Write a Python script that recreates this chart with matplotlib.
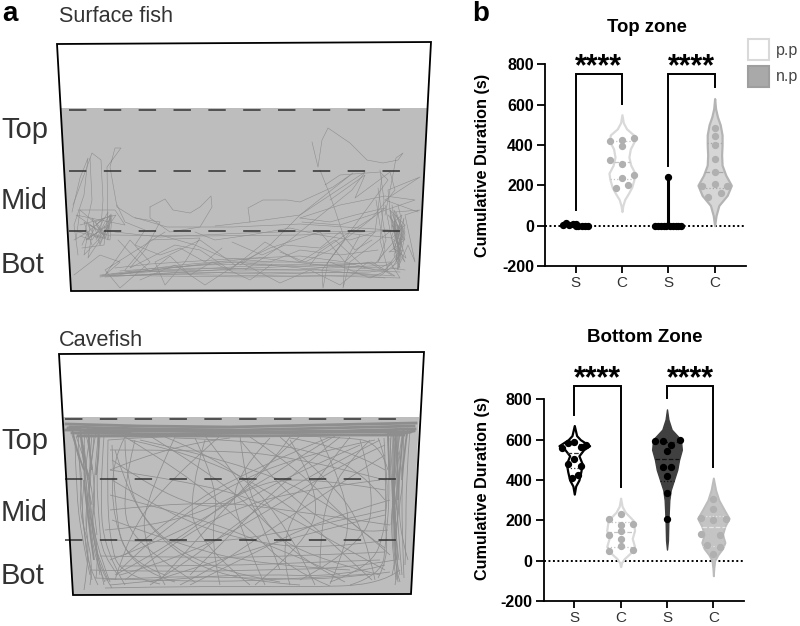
import numpy as np
import matplotlib
matplotlib.use("Agg")
import matplotlib.pyplot as plt
from matplotlib.patches import Polygon, Rectangle, PathPatch
from matplotlib.path import Path

plt.rcParams['font.family'] = ['Liberation Sans', 'DejaVu Sans']

W, H = 800, 626

# ---- panel a, everything in pixels ----
surface_tank = [(57, 44), (431, 42), (418, 290), (71, 291)]
surface_water = [(61, 108), (427, 108), (418, 290), (71, 290)]
surface_dashes = [110, 170.5, 230.7]
cave_tank = [(59, 354), (424, 352), (411, 594), (73, 595)]
cave_water = [(63.5, 417), (419, 417), (411, 594), (73, 594)]
cave_dashes = [419, 479, 540]

surface_traces = [
    [(312, 142), (318, 167), (322, 140), (328, 128), (350, 143), (367, 160), (383, 163), (398, 160), (403, 153), (396, 158), (392, 180), (385, 215)],
    [(150, 207), (165, 199), (173, 210), (190, 213), (200, 207), (211, 196), (212, 207), (200, 227), (170, 232), (150, 218), (150, 207)],
    [(215, 226), (250, 222), (248, 208), (263, 200), (287, 200), (300, 202), (333, 187), (353, 173), (300, 215), (250, 222)],
    [(108, 232), (107, 167), (121, 148), (115, 148), (110, 167), (117, 207), (133, 217), (167, 227), (233, 227), (300, 224), (390, 230)],
    [(73, 205), (84, 175), (92, 153), (101, 160), (103, 200), (100, 240), (88, 258), (94, 222), (80, 210), (76, 240)],
    [(90, 158), (92, 200), (85, 232), (105, 238), (95, 222), (112, 215), (110, 240), (90, 235), (78, 232)],
    [(78, 210), (115, 210), (125, 225), (110, 222), (76, 215), (98, 230), (108, 212), (104, 245), (82, 248)],
    [(74, 275), (100, 255), (120, 262), (105, 275), (130, 240), (150, 262), (120, 288), (105, 270), (165, 232)],
    [(100, 276), (170, 268), (235, 262), (300, 268), (380, 276), (398, 262), (402, 230), (396, 215)],
    [(102, 275), (180, 265), (260, 258), (320, 265), (385, 270), (400, 250), (405, 225)],
    [(105, 277), (190, 272), (270, 274), (340, 272), (395, 276), (372, 262), (300, 270), (200, 268), (125, 272)],
    [(120, 274), (220, 262), (300, 262), (375, 264), (395, 240), (394, 210), (405, 235), (398, 270)],
    [(100, 275), (160, 276), (250, 277), (330, 276), (400, 278), (390, 262), (330, 265), (250, 268), (150, 274)],
    [(125, 270), (150, 240), (200, 238), (185, 262), (165, 285), (155, 262), (200, 240), (235, 265), (270, 248), (320, 232), (345, 262), (360, 235)],
    [(110, 235), (200, 236), (300, 235), (345, 233), (392, 238), (405, 225), (390, 210), (400, 255), (385, 270)],
    [(115, 232), (160, 237), (245, 233), (315, 231), (360, 232), (395, 230)],
    [(245, 270), (290, 240), (352, 190), (365, 172), (300, 215), (270, 245), (240, 265)],
    [(320, 170), (330, 195), (345, 240), (322, 270), (323, 288), (328, 262), (355, 225), (388, 180), (380, 172), (340, 175), (325, 185)],
    [(382, 175), (378, 210), (375, 232), (345, 262), (343, 288), (350, 262), (392, 230), (388, 190), (420, 177), (385, 200), (418, 212)],
    [(385, 205), (392, 240), (400, 262), (395, 220), (405, 240), (392, 225), (401, 255), (390, 215), (398, 235), (406, 258), (393, 248), (399, 225)],
    [(390, 210), (400, 230), (394, 250), (404, 218), (397, 270), (408, 245), (415, 262), (405, 215), (420, 210), (395, 212)],
    [(96, 240), (105, 222), (110, 215), (107, 235), (111, 218), (100, 232), (90, 225), (88, 240), (95, 228), (84, 222), (92, 245)],
    [(135, 218), (160, 222), (145, 250), (130, 268), (175, 245), (200, 250), (230, 270), (265, 242), (300, 262), (335, 240), (365, 268)],
    [(140, 280), (175, 265), (205, 285), (240, 262), (280, 283), (310, 270), (340, 285), (368, 262), (392, 275)],
    [(300, 218), (330, 222), (355, 215), (385, 208), (360, 228), (330, 250), (305, 262), (280, 252)],
    [(330, 200), (365, 175), (355, 198), (390, 172), (395, 190), (372, 218), (345, 235), (320, 252), (310, 265)],
    [(112, 274), (180, 270), (250, 266), (310, 264), (380, 268), (392, 262)],
    [(108, 276), (175, 274), (240, 272), (300, 273), (370, 272), (396, 268)],
    [(120, 271), (200, 265), (265, 264), (330, 268), (390, 265)],
    [(130, 274), (210, 275), (290, 276), (360, 275), (385, 278)],
    [(100, 277), (140, 272), (220, 270), (290, 270), (350, 270), (400, 272)],
    [(115, 268), (150, 264), (230, 259), (300, 256), (345, 262), (375, 270)],
    [(395, 215), (399, 240), (396, 262), (402, 245), (397, 225), (403, 232), (394, 255), (400, 268), (392, 240)],
    [(392, 205), (396, 232), (402, 225), (398, 252), (405, 262), (396, 240), (402, 215), (394, 222), (399, 258)],
    [(388, 215), (396, 225), (391, 238), (400, 244), (389, 252), (403, 250), (392, 268), (405, 270)],
    [(398, 205), (401, 218), (397, 238), (404, 240), (398, 246), (405, 232), (400, 222), (396, 212)],
    [(378, 188), (382, 215), (386, 240), (378, 262), (385, 250), (380, 225), (376, 200)],
    [(88, 225), (96, 238), (104, 232), (92, 218), (100, 245), (108, 225), (86, 240), (98, 232), (110, 236)],
    [(80, 236), (92, 240), (100, 228), (106, 238), (96, 225), (104, 218), (88, 232), (82, 245)],
    [(100, 243), (107, 228), (111, 214), (108, 240), (104, 226), (110, 232)],
    [(74, 240), (88, 232), (84, 255), (100, 238), (116, 215), (80, 225)],
    [(195, 232), (215, 240), (250, 235), (290, 228), (320, 235), (350, 240), (375, 232)],
    [(160, 235), (195, 245), (225, 258), (270, 262), (300, 250), (340, 255), (378, 250)],
    [(380, 170), (384, 200), (380, 240), (388, 270), (370, 278), (330, 262)],
    [(72, 212), (80, 178), (88, 158), (84, 195), (74, 225), (78, 255)],
    [(300, 218), (340, 205), (385, 196), (415, 200), (380, 212), (340, 225), (302, 222)],
    [(117, 205), (125, 222), (145, 230), (135, 245), (160, 255), (180, 248), (205, 262), (222, 248)],
    [(232, 242), (262, 255), (285, 245), (320, 248), (340, 232), (355, 250), (372, 240)],
    [(118, 240), (135, 258), (150, 272), (170, 256), (190, 275), (212, 262), (250, 280), (272, 264)],
]

cave_traces = [
    [(85, 430), (82, 470), (90, 520), (95, 560), (105, 582)],
    [(78, 432), (80, 480), (84, 530), (88, 565), (98, 585)],
    [(92, 434), (88, 480), (92, 530), (100, 570), (112, 588)],
    [(100, 436), (96, 470), (99, 520), (102, 555), (118, 575)],
    [(108, 440), (107, 490), (110, 540), (120, 575), (160, 584)],
    [(75, 440), (76, 490), (82, 540), (90, 575)],
    [(84, 445), (90, 500), (96, 550), (104, 585)],
    [(72, 435), (84, 470), (78, 510), (94, 560), (90, 585)],
    [(96, 432), (84, 500), (100, 545), (96, 578)],
    [(88, 440), (98, 495), (88, 535), (108, 580)],
    [(81, 436), (86, 490), (94, 540), (100, 575)],
    [(90, 436), (80, 500), (86, 545), (92, 580)],
    [(98, 438), (92, 500), (94, 540), (110, 582)],
    [(104, 436), (100, 490), (104, 550), (125, 585)],
    [(86, 434), (94, 470), (84, 515), (90, 552), (84, 590)],
    [(80, 434), (83, 460), (89, 500), (86, 530)],
    [(76, 436), (90, 475), (94, 510), (97, 535)],
    [(94, 436), (92, 465), (86, 480), (92, 505)],
    [(392, 436), (394, 480), (392, 530), (396, 570), (400, 582)],
    [(398, 430), (396, 480), (398, 530), (402, 575)],
    [(404, 432), (402, 480), (402, 530), (404, 578)],
    [(388, 436), (390, 490), (386, 540), (382, 575), (350, 585)],
    [(410, 430), (406, 480), (406, 540), (405, 565)],
    [(395, 440), (402, 500), (392, 545), (400, 575)],
    [(400, 434), (390, 500), (400, 560), (395, 585)],
    [(384, 438), (386, 470), (385, 520), (388, 560), (378, 578)],
    [(392, 432), (406, 470), (396, 520), (408, 560)],
    [(394, 435), (392, 470), (396, 510), (394, 550), (398, 582)],
    [(396, 436), (399, 480), (394, 525), (399, 560)],
    [(390, 438), (394, 500), (398, 550), (392, 575)],
    [(402, 436), (394, 490), (390, 530), (396, 580)],
    [(397, 434), (396, 460), (400, 490), (396, 540)],
    [(393, 434), (395, 455), (393, 485), (397, 510)],
    [(399, 434), (397, 455), (399, 480), (395, 505)],
    [(391, 434), (389, 465), (395, 495), (391, 525)],
    [(108, 440), (160, 436), (250, 435), (340, 437), (380, 442), (388, 470)],
    [(110, 585), (180, 578), (260, 574), (340, 577), (385, 565)],
    [(105, 588), (200, 586), (300, 587), (380, 585), (400, 570)],
    [(90, 570), (170, 572), (260, 570), (350, 568), (395, 560)],
    [(95, 578), (190, 582), (280, 580), (370, 574)],
    [(100, 556), (200, 558), (300, 556), (385, 552)],
    [(120, 566), (220, 566), (320, 562), (380, 560)],
    [(105, 580), (170, 576), (250, 578), (330, 580), (390, 572)],
    [(125, 437), (180, 470), (240, 520), (290, 570), (330, 586)],
    [(150, 436), (205, 470), (255, 510), (300, 560), (345, 582)],
    [(205, 436), (240, 480), (265, 530), (280, 570)],
    [(240, 436), (245, 480), (262, 520), (300, 555), (380, 575)],
    [(380, 440), (320, 470), (255, 510), (190, 560), (150, 585)],
    [(385, 455), (330, 490), (270, 530), (210, 570), (180, 585)],
    [(340, 437), (285, 480), (235, 530), (190, 575)],
    [(300, 436), (260, 470), (215, 520), (160, 580)],
    [(390, 500), (320, 520), (250, 555), (190, 585)],
    [(380, 480), (300, 490), (230, 510), (170, 545), (125, 580)],
    [(110, 470), (180, 480), (260, 500), (330, 540), (385, 570)],
    [(110, 495), (190, 515), (270, 545), (340, 575)],
    [(105, 530), (170, 525), (250, 490), (310, 450), (335, 436)],
    [(110, 560), (190, 530), (260, 480), (290, 437)],
    [(120, 575), (190, 555), (270, 510), (340, 465), (385, 445)],
    [(115, 450), (130, 500), (170, 550), (230, 580), (300, 585)],
    [(112, 445), (115, 510), (125, 560), (165, 575)],
    [(385, 500), (360, 470), (310, 450), (240, 440), (175, 438)],
    [(280, 437), (330, 480), (365, 530), (375, 580)],
    [(320, 437), (345, 490), (350, 540), (330, 584)],
    [(360, 440), (375, 490), (365, 545), (300, 580)],
    [(175, 437), (150, 490), (140, 540), (165, 585)],
    [(220, 436), (170, 480), (130, 530), (115, 580)],
    [(110, 450), (200, 450), (290, 455), (385, 480)],
    [(110, 510), (200, 500), (290, 510), (390, 525)],
    [(115, 540), (200, 545), (300, 530), (385, 510)],
    [(140, 440), (230, 460), (330, 500), (390, 555)],
    [(270, 438), (230, 480), (240, 530), (265, 585)],
    [(195, 438), (220, 490), (210, 540), (220, 585)],
    [(350, 437), (300, 500), (280, 550), (290, 585)],
    [(110, 470), (170, 445), (230, 438)],
    [(385, 470), (345, 447), (290, 438)],
    [(125, 437), (112, 460), (113, 520), (135, 570), (175, 582)],
    [(378, 438), (388, 460), (386, 530), (370, 568), (330, 582)],
    [(130, 440), (200, 455), (285, 500), (350, 560), (372, 580)],
    [(165, 437), (235, 465), (290, 530), (315, 585)],
    [(250, 437), (300, 470), (345, 520), (385, 548)],
    [(375, 440), (300, 455), (220, 490), (150, 540), (120, 570)],
    [(330, 437), (250, 470), (180, 510), (125, 555)],
    [(385, 515), (300, 535), (220, 560), (150, 582)],
    [(388, 540), (320, 550), (240, 540), (170, 515), (112, 480)],
    [(112, 520), (180, 545), (260, 565), (350, 570)],
    [(125, 440), (125, 480), (150, 530), (210, 570), (280, 582)],
    [(370, 440), (340, 470), (320, 520), (320, 570)],
    [(205, 440), (190, 490), (195, 540), (250, 585)],
    [(290, 440), (320, 490), (310, 540), (255, 585)],
    [(112, 460), (170, 500), (230, 510), (280, 480), (360, 445)],
    [(115, 575), (180, 540), (240, 490), (300, 475), (385, 490)],
    [(135, 440), (120, 500), (135, 545), (195, 582)],
    [(240, 440), (290, 500), (350, 535), (388, 530)],
]

# the thick band along the surface and the two busy corners
cave_band_traces = [
    [(66, 424), (140, 426), (230, 427), (320, 425), (416, 423)],
    [(70, 427), (150, 429), (240, 430), (330, 428), (414, 426)],
    [(66, 430), (160, 431), (250, 432), (340, 431), (415, 429)],
    [(72, 433), (170, 434), (260, 433), (350, 432), (410, 432)],
    [(78, 436), (165, 436), (250, 436), (340, 435), (404, 435)],
    [(68, 428), (95, 432), (130, 432)],
    [(380, 431), (400, 434), (414, 431)],
]
cave_corner_traces = [
    [(72, 428), (76, 450), (84, 470)],
    [(80, 428), (84, 455), (88, 480)],
    [(88, 428), (90, 455), (92, 470)],
    [(98, 430), (100, 450), (96, 475)],
    [(404, 428), (400, 455), (398, 500)],
    [(396, 428), (394, 460), (394, 520)],
    [(388, 430), (388, 450), (390, 480)],
    [(408, 428), (404, 450), (402, 480)],
    [(392, 480), (394, 520), (396, 560)],
    [(84, 480), (88, 520), (94, 560)],
]

# ---- panel b, values ----
group_labels = ['S', 'C', 'S', 'C']
y_ticks = [-200, 0, 200, 400, 600, 800]

top_s1_vals = [3, 15, 5, 8, 10, 0, 0, 0, 0, 0]
top_s1_off = [-0.27, -0.21, -0.14, -0.06, 0.0, 0.06, 0.13, 0.2, 0.27, 0.0]
top_c1_vals = [420, 425, 435, 395, 325, 305, 250, 238, 203, 188]
top_c1_off = [-0.25, 0, 0.27, 0, -0.25, 0, 0.27, 0, 0.14, -0.13]
top_s2_vals = [240, 0, 0, 0, 0, 0, 0, 0, 0, 0, 0]
top_s2_off = [0, -0.28, -0.22, -0.16, -0.1, -0.04, 0.04, 0.1, 0.16, 0.22, 0.28]
top_c2_vals = [486, 443, 400, 332, 264, 208, 198, 198, 160, 144]
top_c2_off = [0, 0, 0, 0, 0, 0, -0.27, 0.27, 0.13, -0.14]

top_c1_y = [70, 100, 130, 160, 190, 230, 260, 300, 340, 380, 420, 450, 480, 510, 550]
top_c1_w = [0, 0.02, 0.06, 0.14, 0.21, 0.26, 0.28, 0.19, 0.15, 0.18, 0.27, 0.25, 0.1, 0.03, 0]
top_c2_y = [0, 50, 100, 150, 200, 250, 300, 350, 400, 450, 500, 540, 580, 630]
top_c2_w = [0, 0.03, 0.09, 0.27, 0.36, 0.24, 0.16, 0.15, 0.16, 0.16, 0.12, 0.06, 0.02, 0]

bot_s1_vals = [589, 581, 574, 564, 560, 503, 481, 471, 423, 410]
bot_s1_off = [0, -0.13, 0.26, 0.14, -0.27, 0, -0.13, 0.14, 0.08, -0.06]
bot_c1_vals = [233, 208, 180, 178, 145, 129, 107, 73, 50, 55]
bot_c1_off = [0, -0.26, 0.27, 0, 0, -0.26, 0, 0, -0.26, 0.27]
bot_s2_vals = [592, 595, 597, 572, 544, 464, 464, 420, 334, 208]
bot_s2_off = [-0.26, -0.08, 0.27, 0.09, 0, -0.08, 0.09, 0, 0, 0]
bot_c2_vals = [304, 255, 210, 207, 203, 134, 127, 76, 69, 31]
bot_c2_off = [0, 0, -0.26, 0.27, 0, -0.26, 0.14, -0.13, 0.14, 0]

bot_s1_y = [330, 370, 400, 440, 480, 520, 550, 570, 600, 620, 670]
bot_s1_w = [0, 0.03, 0.1, 0.14, 0.17, 0.1, 0.2, 0.33, 0.13, 0.05, 0]
bot_c1_y = [-30, -10, 10, 40, 70, 110, 150, 200, 240, 270, 310]
bot_c1_w = [0, 0.02, 0.08, 0.22, 0.3, 0.25, 0.3, 0.27, 0.1, 0.03, 0]
bot_s2_y = [55, 100, 200, 300, 350, 400, 450, 500, 550, 600, 650, 700, 750]
bot_s2_w = [0, 0.02, 0.03, 0.05, 0.08, 0.15, 0.22, 0.26, 0.32, 0.3, 0.1, 0.03, 0]
bot_c2_y = [-75, -40, 0, 30, 60, 90, 130, 170, 210, 250, 300, 350, 410]
bot_c2_w = [0, 0.01, 0.03, 0.1, 0.2, 0.25, 0.2, 0.25, 0.34, 0.24, 0.12, 0.05, 0]

top_quart = {'c1': [230, 315, 420], 'c2': [185, 265, 410]}
bot_quart = {'s1': [460, 535, 580], 'c1': [70, 140, 190], 's2': [395, 505, 590], 'c2': [75, 165, 220]}


def px_axes(fig, left, top, right, bottom):
    return fig.add_axes([left / W, 1 - bottom / H, (right - left) / W, (bottom - top) / H])


def draw_polylines(ax, traces, lw):
    for tr in traces:
        xs, ys = zip(*tr)
        ax.plot(xs, ys, color='#8e8e8e', lw=lw, zorder=2, solid_joinstyle='round')


def draw_curves(ax, traces, lw):
    # quadratic segments through the midpoints, the fish swim in soft curves here
    for tr in traces:
        pts = np.array(tr, dtype=float)
        verts = [pts[0]]
        codes = [Path.MOVETO]
        for i in range(1, len(pts) - 1):
            end = pts[i + 1] if i == len(pts) - 2 else (pts[i] + pts[i + 1]) / 2
            verts += [pts[i], end]
            codes += [Path.CURVE3, Path.CURVE3]
        if len(pts) == 2:
            verts.append(pts[1])
            codes.append(Path.LINETO)
        ax.add_patch(PathPatch(Path(verts, codes), fc='none', ec='#8e8e8e', lw=lw, zorder=2))


def draw_tank(ax, tank, water, dash_ys, x0, x1):
    ax.add_patch(Polygon(water, closed=True, fc='#bdbdbd', ec='none', zorder=1))
    for y in dash_ys:
        ax.plot([x0, x1], [y, y], color='#333333', lw=1.1, dashes=(11.4, 11.4), zorder=3)
    ax.add_patch(Polygon(tank, closed=True, fc='none', ec='black', lw=1.3, zorder=4))


def violin(ax, x, ys, ws, quart, face, edge, lw, qcolor):
    ys = np.array(ys)
    ws = np.array(ws)
    ax.fill_betweenx(ys, x - ws, x + ws, facecolor=face, edgecolor=edge, lw=lw, zorder=2)
    for i, q in enumerate(quart):
        w = np.interp(q, ys, ws)
        ax.plot([x - w, x + w], [q, q], color=qcolor, lw=0.9, ls='--' if i == 1 else ':', zorder=3)


def setup_axis(ax, label_x, label_y):
    ax.set_xlim(0.34, 4.67)
    ax.set_ylim(-200, 800)
    ax.patch.set_alpha(0)
    for s in ['top', 'right']:
        ax.spines[s].set_visible(False)
    for s in ['left', 'bottom']:
        ax.spines[s].set_linewidth(1.3)
    ax.set_xticks([1, 2, 3, 4])
    ax.set_xticklabels(group_labels, fontsize=11, color='#333333')
    ax.set_yticks(y_ticks)
    ax.set_yticklabels([str(t) for t in y_ticks], fontsize=11.5, fontweight='bold')
    ax.tick_params(axis='y', length=6, width=1.3, pad=2)
    ax.tick_params(axis='x', length=5, width=1.3, pad=2)
    ax.set_ylabel('Cumulative Duration (s)', fontsize=11.7, fontweight='bold')
    ax.yaxis.set_label_coords(label_x, label_y)
    ax.axhline(0, color='black', lw=1.4, ls=(0, (1, 1.3)), zorder=1)


def bracket(ax, x0, x1, y_top, y0, y1):
    ax.plot([x0, x0, x1, x1], [y0, y_top, y_top, y1], color='black', lw=1.4,
            clip_on=False, zorder=5, solid_joinstyle='miter')
    ax.text((x0 + x1) / 2, y_top - 40, '****', ha='center', va='bottom', fontsize=22,
            fontweight='bold', clip_on=False)


fig = plt.figure(figsize=(W / 100, H / 100), dpi=100)

bg = fig.add_axes([0, 0, 1, 1])
bg.set_xlim(0, W)
bg.set_ylim(H, 0)
bg.axis('off')

draw_tank(bg, surface_tank, surface_water, surface_dashes, 69, 417)
draw_polylines(bg, surface_traces, 0.4)
draw_tank(bg, cave_tank, cave_water, cave_dashes, 65, 413)
draw_curves(bg, cave_traces, 0.55)
draw_polylines(bg, cave_band_traces, 2.0)
draw_curves(bg, cave_corner_traces, 1.3)

bg.text(2, 14, 'a', fontsize=20, fontweight='bold', va='center', color='black')
bg.text(472, 14, 'b', fontsize=20, fontweight='bold', va='center', color='black')
bg.text(59, 17, 'Surface fish', fontsize=15.6, va='center', color='#333333')
bg.text(59, 340, 'Cavefish', fontsize=15.6, va='center', color='#333333')
for label, y in zip(['Top', 'Mid', 'Bot'], [138, 209, 273]):
    bg.text(1, y, label, fontsize=21, va='baseline', color='#333333')
for label, y in zip(['Top', 'Mid', 'Bot'], [449, 521, 584]):
    bg.text(1, y, label, fontsize=21, va='baseline', color='#333333')

# legend squares
bg.add_patch(Rectangle((748, 39), 21, 21, fc='white', ec='#d9d9d9', lw=1.5))
bg.add_patch(Rectangle((748, 66), 21, 21, fc='#a9a9a9', ec='#9e9e9e', lw=1.5))
bg.text(776, 50, 'p.p', fontsize=11.5, va='center', color='#444444')
bg.text(776, 76, 'n.p', fontsize=11.5, va='center', color='#444444')

# top zone
ax1 = px_axes(fig, 545, 64.3, 745.7, 266)
setup_axis(ax1, -0.274, 0.5)
violin(ax1, 2, top_c1_y, top_c1_w, top_quart['c1'], 'white', '#d9d9d9', 1.6, '#c4c4c4')
violin(ax1, 4, top_c2_y, top_c2_w, top_quart['c2'], '#d6d6d6', '#b4b4b4', 1.6, '#a8a8a8')
ax1.plot([3, 3], [0, 240], color='black', lw=2.2, zorder=3)
ax1.scatter(1 + np.array(top_s1_off), top_s1_vals, s=18, color='black', zorder=4)
ax1.scatter(3 + np.array(top_s2_off), top_s2_vals, s=18, color='black', zorder=4)
ax1.scatter(2 + np.array(top_c1_off), top_c1_vals, s=18, color='#b0b0b0', zorder=4)
ax1.scatter(4 + np.array(top_c2_off), top_c2_vals, s=18, color='#b0b0b0', zorder=4)
bracket(ax1, 1, 2, 752, 78, 603)
bracket(ax1, 3, 4, 752, 296, 689)
bg.text(647, 27, 'Top zone', fontsize=13.3, fontweight='bold', ha='center', va='center')

# bottom zone
ax2 = px_axes(fig, 543.7, 399.3, 744.4, 601)
setup_axis(ax2, -0.267, 0.558)
violin(ax2, 1, bot_s1_y, bot_s1_w, bot_quart['s1'], 'white', 'black', 1.6, '#333333')
violin(ax2, 2, bot_c1_y, bot_c1_w, bot_quart['c1'], 'white', '#d9d9d9', 1.6, '#c4c4c4')
violin(ax2, 3, bot_s2_y, bot_s2_w, bot_quart['s2'], '#404040', '#404040', 1.0, '#111111')
violin(ax2, 4, bot_c2_y, bot_c2_w, bot_quart['c2'], '#c4c4c4', '#bcbcbc', 1.4, '#e4e4e4')
ax2.scatter(1 + np.array(bot_s1_off), bot_s1_vals, s=18, color='black', zorder=4)
ax2.scatter(3 + np.array(bot_s2_off), bot_s2_vals, s=18, color='black', zorder=4)
ax2.scatter(2 + np.array(bot_c1_off), bot_c1_vals, s=18, color='#b0b0b0', zorder=4)
ax2.scatter(4 + np.array(bot_c2_off), bot_c2_vals, s=18, color='#b0b0b0', zorder=4)
bracket(ax2, 1, 2, 866, 721, 367)
bracket(ax2, 3, 4, 866, 805, 463)
bg.text(645, 337, 'Bottom Zone', fontsize=13.5, fontweight='bold', ha='center', va='center')

fig.savefig('out.png', dpi=100)
plt.close(fig)
